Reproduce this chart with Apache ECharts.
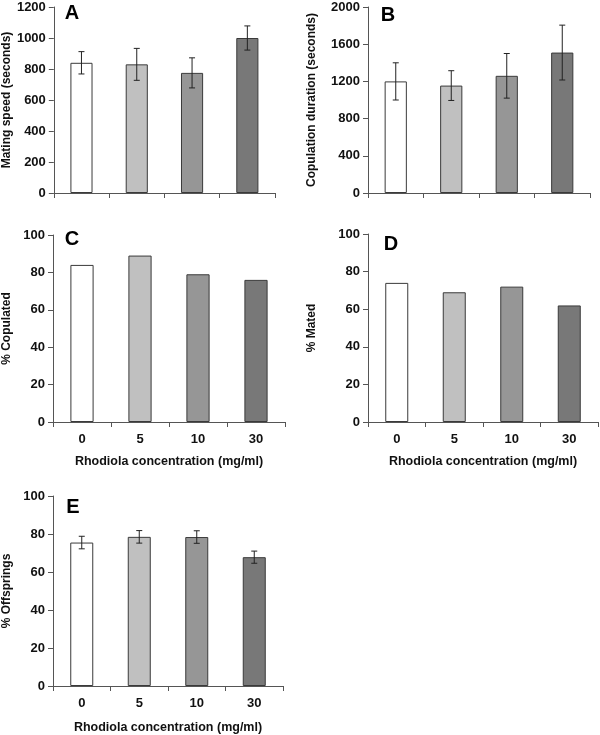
<!DOCTYPE html>
<html>
<head>
<meta charset="utf-8">
<script src="https://cdn.jsdelivr.net/npm/echarts@6/dist/echarts.min.js"></script>
<style>html,body{margin:0;padding:0;background:#fff}#c{width:600px;height:735px}</style>
</head>
<body>
<div id="c"></div>
<script>
const categories = ['0', '5', '10', '30'];
const matingSpeed = [840, 830, 775, 1000];
const matingSpeedErr = [72, 103, 97, 78];
const copulationDuration = [1200, 1155, 1260, 1510];
const copulationDurationErr = [200, 160, 240, 295];
const copulated = [84, 89, 79, 76];
const mated = [74, 69, 72, 62];
const offsprings = [75.5, 78.5, 78.4, 67.8];
const offspringsErr = [3.3, 3.3, 3.3, 3.2];
const panelLetters = ['A', 'B', 'C', 'D', 'E'];
const xTitle = 'Rhodiola concentration (mg/ml)';

const barColors = ['#ffffff', '#c0c0c0', '#969696', '#787878'];
const FONT = 'Liberation Sans, Arial, sans-serif';
const TXT = '#111';
const AX = '#555';

const panels = [
  {grid:{left:52, top:7, width:223, height:186}, max:1200, interval:200, yName:'Mating speed (seconds)', nameGap:39, showX:false, values:matingSpeed, errs:matingSpeedErr, letterPos:[72,13]},
  {grid:{left:368, top:7, width:222, height:186}, max:2000, interval:400, yName:'Copulation duration (seconds)', nameGap:50, showX:false, values:copulationDuration, errs:copulationDurationErr, letterPos:[388,15.5]},
  {grid:{left:53, top:235, width:232, height:187}, max:100, interval:20, yName:'% Copulated', nameGap:40, showX:true, xNameGap:33, values:copulated, errs:null, letterPos:[72,239]},
  {grid:{left:368, top:234, width:230, height:188}, max:100, interval:20, yName:'% Mated', nameGap:50, showX:true, xNameGap:33, values:mated, errs:null, letterPos:[391,244]},
  {grid:{left:52, top:496, width:231, height:190}, max:100, interval:20, yName:'% Offsprings', nameGap:40, showX:true, xNameGap:35, values:offsprings, errs:offspringsErr, letterPos:[73,507]}
];

const grids = [], xAxes = [], yAxes = [], series = [], graphics = [];
panels.forEach((p, i) => {
  grids.push(Object.assign({containLabel:false}, p.grid));
  xAxes.push({
    type:'category', gridIndex:i, data:categories, boundaryGap:true,
    axisLine:{lineStyle:{color:AX, width:1}},
    axisTick:{show:true, length:5, lineStyle:{color:AX}},
    axisLabel:{show:p.showX, fontFamily:FONT, fontWeight:'bold', fontSize:13, color:TXT, margin:11},
    name:p.showX ? xTitle : '', nameLocation:'middle', nameGap:p.xNameGap || 30,
    nameTextStyle:{fontFamily:FONT, fontWeight:'bold', fontSize:12.5, color:TXT}
  });
  yAxes.push({
    type:'value', gridIndex:i, min:0, max:p.max, interval:p.interval,
    axisLine:{show:true, lineStyle:{color:AX, width:1}},
    axisTick:{show:true, length:5, lineStyle:{color:AX}},
    splitLine:{show:false},
    axisLabel:{fontFamily:FONT, fontWeight:'bold', fontSize:13, color:TXT, margin:8, formatter:(v) => String(v)},
    name:p.yName, nameLocation:'middle', nameGap:p.nameGap, nameRotate:90,
    nameTextStyle:{fontFamily:FONT, fontWeight:'bold', fontSize:12, color:TXT}
  });
  series.push({
    type:'bar', xAxisIndex:i, yAxisIndex:i, barWidth:'40%',
    data:p.values.map((v, k) => ({value:v, itemStyle:{color:barColors[k]}})),
    itemStyle:{borderColor:'#3a3a3a', borderWidth:1},
    silent:true, animation:false
  });
  if (p.errs) {
    series.push({
      type:'custom', xAxisIndex:i, yAxisIndex:i, z:5, animation:false, silent:true,
      data:p.values.map((v, k) => [k, v - p.errs[k], v + p.errs[k]]),
      encode:{x:0, y:[1, 2]},
      renderItem:(params, api) => {
        const k = api.value(0);
        const lo = api.coord([k, api.value(1)]);
        const hi = api.coord([k, api.value(2)]);
        const hw = 3;
        const st = {stroke:'#222', lineWidth:1};
        return {type:'group', children:[
          {type:'line', shape:{x1:lo[0], y1:lo[1], x2:hi[0], y2:hi[1]}, style:st},
          {type:'line', shape:{x1:lo[0]-hw, y1:lo[1], x2:lo[0]+hw, y2:lo[1]}, style:st},
          {type:'line', shape:{x1:hi[0]-hw, y1:hi[1], x2:hi[0]+hw, y2:hi[1]}, style:st}
        ]};
      }
    });
  }
  graphics.push({
    type:'text', x:p.letterPos[0], y:p.letterPos[1],
    style:{text:panelLetters[i], fontFamily:FONT, fontWeight:'bold', fontSize:20, fill:'#000', textAlign:'center', textVerticalAlign:'middle'}
  });
});

const chart = echarts.init(document.getElementById('c'), null, {renderer:'canvas'});
chart.setOption({
  backgroundColor:'#fff', animation:false,
  grid:grids, xAxis:xAxes, yAxis:yAxes, series:series, graphic:graphics
});
</script>
</body>
</html>
